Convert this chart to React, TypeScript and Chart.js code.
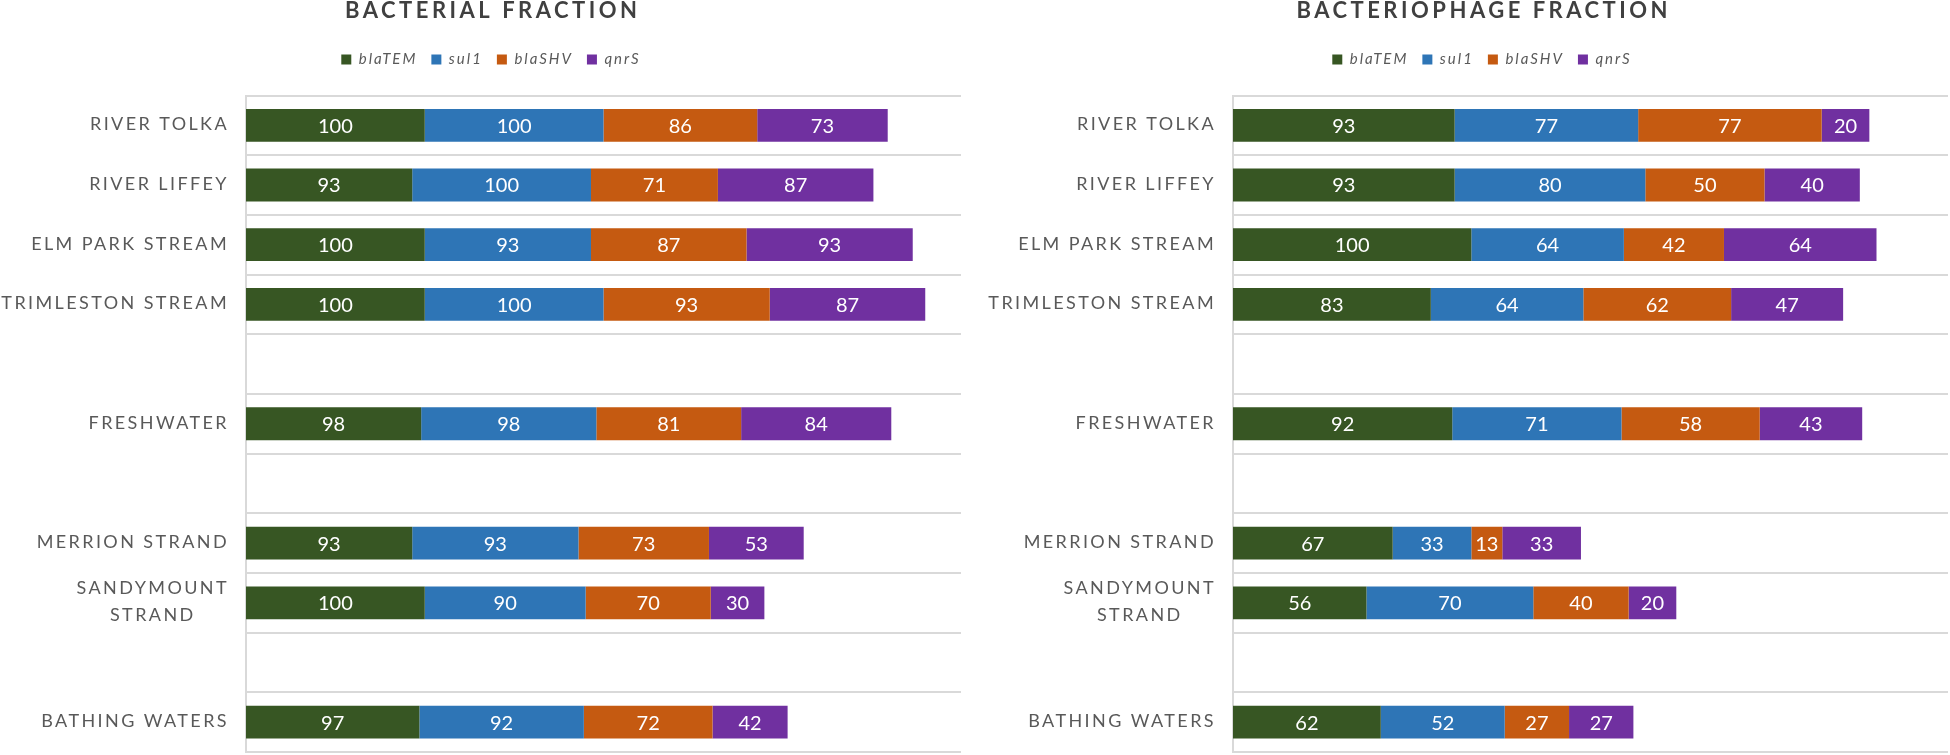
import React, { useEffect, useRef } from 'react'
import Chart from 'chart.js/auto'

const categories: (string | string[])[] = [
  'RIVER TOLKA',
  'RIVER LIFFEY',
  'ELM PARK STREAM',
  'TRIMLESTON STREAM',
  '',
  'FRESHWATER',
  '',
  'MERRION STRAND',
  ['SANDYMOUNT', 'STRAND'],
  '',
  'BATHING WATERS',
]
const geneNames = ['blaTEM', 'sul1', 'blaSHV', 'qnrS']
const geneColors = ['#375623', '#2E75B6', '#C55A11', '#7030A0']

const bacterialBlaTEM = [100, 93, 100, 100, null, 98, null, 93, 100, null, 97]
const bacterialSul1 = [100, 100, 93, 100, null, 98, null, 93, 90, null, 92]
const bacterialBlaSHV = [86, 71, 87, 93, null, 81, null, 73, 70, null, 72]
const bacterialQnrS = [73, 87, 93, 87, null, 84, null, 53, 30, null, 42]

const phageBlaTEM = [93, 93, 100, 83, null, 92, null, 67, 56, null, 62]
const phageSul1 = [77, 80, 64, 64, null, 71, null, 33, 70, null, 52]
const phageBlaSHV = [77, 50, 42, 62, null, 58, null, 13, 40, null, 27]
const phageQnrS = [20, 40, 64, 47, null, 43, null, 33, 20, null, 27]

const FONT = 'Lato'

// legend text is spaced a bit; everything else sets its own spacing
const textPlugin = {
  id: 'fractionText',
  beforeLayout(chart: any) {
    chart.ctx.letterSpacing = '2px'
  },
  beforeDraw(chart: any) {
    chart.ctx.letterSpacing = '2px'
  },
  afterDatasetsDraw(chart: any) {
    const ctx = chart.ctx
    ctx.save()
    ctx.letterSpacing = '0px'
    ctx.font = `20px ${FONT}`
    ctx.fillStyle = '#ffffff'
    ctx.textAlign = 'center'
    ctx.textBaseline = 'middle'
    chart.data.datasets.forEach((ds: any, di: number) => {
      const meta = chart.getDatasetMeta(di)
      meta.data.forEach((bar: any, i: number) => {
        const v = ds.data[i]
        if (v == null) return
        const { x, base, y } = bar.getProps(['x', 'base', 'y'], true)
        ctx.fillText(String(v), (x + base) / 2, y + 1)
      })
    })
    ctx.restore()
  },
  afterDraw(chart: any, _args: any, opts: any) {
    const ctx = chart.ctx
    const yScale = chart.scales.y
    ctx.save()

    // chart title, centred over the legend
    ctx.letterSpacing = '3.5px'
    ctx.font = `bold 22px ${FONT}`
    ctx.fillStyle = '#404040'
    ctx.textAlign = 'center'
    ctx.textBaseline = 'middle'
    const cx = (chart.legend.left + chart.legend.right) / 2
    ctx.fillText(opts.title, cx + 1.75, 11)

    // category labels: right-aligned block, multi-line labels centred within it
    ctx.letterSpacing = '2.4px'
    ctx.font = `18px ${FONT}`
    ctx.fillStyle = '#595959'
    const right = yScale.right - 17
    categories.forEach((label, i) => {
      const lines = Array.isArray(label) ? label : [label]
      if (!lines[0]) return
      const yc = yScale.getPixelForValue(i)
      const w = Math.max(...lines.map((l) => ctx.measureText(l).width))
      lines.forEach((l, li) => {
        ctx.fillText(l, right - w / 2, yc - 1 + (li - (lines.length - 1) / 2) * 27)
      })
    })
    ctx.restore()
    ctx.letterSpacing = '2px'
  },
}

interface FractionChartProps {
  title: string
  series: (number | null)[][]
  xMax: number
  leftPad: number
  axisWidth: number
  rightPad: number
}

const FractionChart = ({ title, series, xMax, leftPad, axisWidth, rightPad }: FractionChartProps) => {
  const chartRef = useRef<HTMLCanvasElement>(null)
  const chartInstance = useRef<Chart>()

  useEffect(() => {
    if (chartRef.current) {
      const ctx = chartRef.current.getContext('2d')
      if (ctx) {
        chartInstance.current = new Chart(ctx, {
          type: 'bar',
          data: {
            labels: categories,
            datasets: geneNames.map((name, k) => ({
              label: name,
              data: series[k],
              backgroundColor: geneColors[k],
              borderWidth: 0,
              barPercentage: 0.55,
              categoryPercentage: 1,
            })),
          },
          options: {
            indexAxis: 'y',
            animation: false,
            responsive: true,
            maintainAspectRatio: false,
            layout: { padding: { top: 38, bottom: 3, left: leftPad, right: rightPad } },
            plugins: {
              fractionText: { title },
              legend: {
                position: 'top',
                labels: {
                  boxWidth: 10,
                  boxHeight: 10,
                  color: '#595959',
                  padding: 14,
                  font: { family: FONT, size: 15, style: 'italic' },
                },
              },
              tooltip: { enabled: false },
            },
            scales: {
              x: {
                type: 'linear',
                position: 'top',
                stacked: true,
                min: 0,
                max: xMax,
                grid: { display: false },
                border: { display: false },
                ticks: { display: false },
                afterFit: (scale: any) => {
                  scale.height = 18.5
                },
              },
              y: {
                stacked: true,
                grid: { color: '#d9d9d9', lineWidth: 2, drawTicks: false },
                border: { color: '#d9d9d9', width: 2 },
                ticks: { display: false },
                afterFit: (scale: any) => {
                  scale.width = axisWidth
                },
              },
            },
          },
          plugins: [textPlugin],
        } as any)
      }
    }

    return () => {
      if (chartInstance.current) {
        chartInstance.current.destroy()
      }
    }
  }, [title, series, xMax, leftPad, axisWidth, rightPad])

  return <canvas ref={chartRef} />
}

const App = () => {
  return (
    <div style={{ position: 'absolute', left: 0, top: 0, width: 1950, height: 755, background: '#fff' }}>
      <div style={{ position: 'absolute', left: 0, top: 0, width: 980, height: 755 }}>
        <FractionChart
          title="BACTERIAL FRACTION"
          series={[bacterialBlaTEM, bacterialSul1, bacterialBlaSHV, bacterialQnrS]}
          xMax={400}
          leftPad={21}
          axisWidth={225}
          rightPad={19}
        />
      </div>
      <div style={{ position: 'absolute', left: 985, top: 0, width: 965, height: 755 }}>
        <FractionChart
          title="BACTERIOPHAGE FRACTION"
          series={[phageBlaTEM, phageSul1, phageBlaSHV, phageQnrS]}
          xMax={300}
          leftPad={31}
          axisWidth={217}
          rightPad={2}
        />
      </div>
    </div>
  )
}

export default App
